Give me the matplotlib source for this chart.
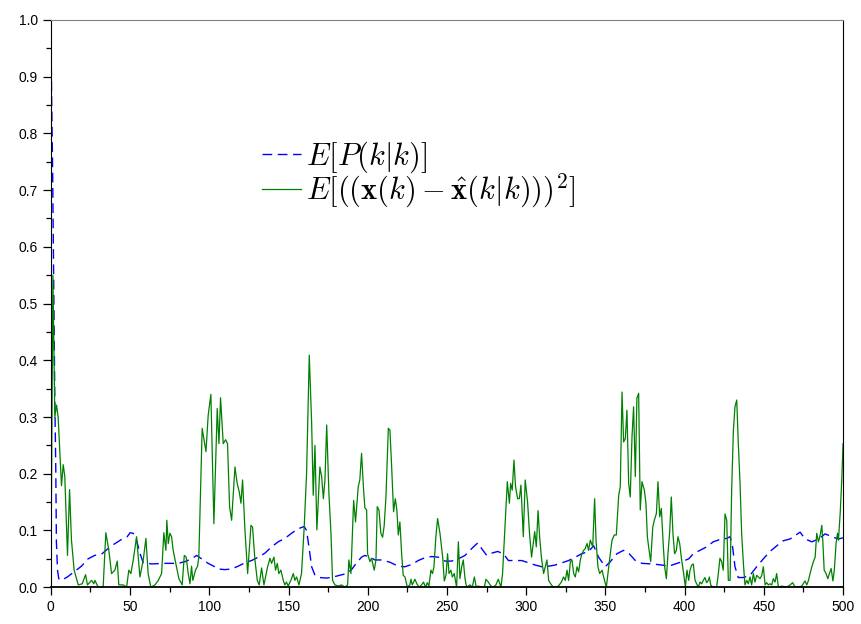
import matplotlib
matplotlib.use('Agg')
import matplotlib.pyplot as plt
from matplotlib.ticker import MultipleLocator, FormatStrFormatter

plt.rcParams['mathtext.fontset'] = 'cm'
plt.rcParams['font.family'] = ['Liberation Sans', 'DejaVu Sans']

# E[P(k|k)]  (blue dashed)
k_p = [0, 0.5, 1.1, 1.5, 2.1, 2.5, 3.1, 3.5, 4.2, 5, 6, 8, 10.9, 15.1, 19.3, 23.5,
       27.7, 31.9, 36.1, 40, 44.5, 48.2, 50, 52, 54.1, 56.2, 58.3, 63.6, 72, 80.4,
       84.6, 88.8, 92, 95.1, 99.3, 103.5, 105.6, 109.8, 114, 118.2, 122.5, 126.7,
       130.9, 135.1, 139.3, 143.5, 147.7, 151.9, 156.1, 159.9, 161.4, 162.9, 164.6,
       166.7, 169.8, 174, 178.2, 182.4, 186.6, 189.8, 193, 196.1, 198.2, 201.4,
       204.6, 208.7, 214, 219.2, 223.4, 227.7, 231.9, 236.1, 240.3, 244.5, 248.7,
       252.9, 257.2, 261.4, 265.6, 269.4, 271.9, 275.1, 278.3, 282, 285.6, 288.8,
       293, 297.2, 301.5, 305.7, 309.9, 314.1, 318.3, 322.6, 326.8, 331, 335.2,
       339.4, 342.6, 345.7, 349.9, 353.1, 357.3, 361.5, 364.7, 368.9, 373.1, 379.4,
       385.8, 390, 394.2, 398.4, 402.6, 405.5, 409.7, 413.9, 418.1, 422.3, 426.5,
       428.7, 430.3, 431.8, 433.9, 437.1, 441.3, 445.5, 449.7, 453.9, 458.2, 462.4,
       466.6, 469.8, 472.9, 476.1, 480.3, 484.5, 488.7, 492.9, 497.1, 500]
p_mean = [1.0, 0.86, 0.74, 0.62, 0.45, 0.33, 0.21, 0.08, 0.03, 0.015, 0.012, 0.014,
          0.019, 0.028, 0.037, 0.05, 0.056, 0.058, 0.068, 0.076, 0.084, 0.089, 0.096,
          0.095, 0.083, 0.06, 0.043, 0.041, 0.042, 0.042, 0.045, 0.05, 0.056, 0.05,
          0.042, 0.036, 0.032, 0.031, 0.032, 0.037, 0.043, 0.047, 0.053, 0.06, 0.071,
          0.08, 0.086, 0.095, 0.103, 0.107, 0.1, 0.071, 0.036, 0.021, 0.017, 0.016,
          0.018, 0.021, 0.024, 0.031, 0.043, 0.053, 0.056, 0.053, 0.048, 0.048, 0.044,
          0.037, 0.036, 0.04, 0.047, 0.052, 0.054, 0.053, 0.046, 0.046, 0.05, 0.056,
          0.068, 0.078, 0.068, 0.056, 0.06, 0.063, 0.059, 0.047, 0.047, 0.047, 0.043,
          0.039, 0.036, 0.037, 0.039, 0.043, 0.047, 0.053, 0.059, 0.063, 0.073, 0.053,
          0.036, 0.045, 0.059, 0.065, 0.06, 0.047, 0.042, 0.041, 0.039, 0.037, 0.041,
          0.045, 0.05, 0.059, 0.065, 0.071, 0.08, 0.084, 0.086, 0.089, 0.071, 0.036,
          0.017, 0.017, 0.021, 0.036, 0.05, 0.063, 0.073, 0.082, 0.085, 0.091, 0.097,
          0.085, 0.08, 0.085, 0.094, 0.089, 0.085, 0.087]

# E[(x - xhat)^2]  (green solid)
k_e = [0, 1.3, 2.5, 3.6, 4.6, 6.7, 7.8, 8.8, 10.5, 11.8, 13.0, 14.7, 17.3, 19.8, 21.9,
       23.1, 25.7, 27.1, 27.8, 29.9, 33.0, 34.7, 36.6, 38.3, 40.4, 41.9, 42.9, 45.7,
       47.8, 49.2, 50.5, 52.0, 54.1, 56.2, 58.3, 60.0, 61.4, 63.1, 65.7, 67.8, 69.9,
       71.3, 72.6, 73.2, 74.1, 75.1, 76.2, 77.2, 79.3, 80.8, 82.9, 84.2, 85.4, 86.7,
       87.8, 88.8, 89.6, 91.3, 92.6, 93.4, 95.5, 97.9, 99.3, 101.0, 102.9, 105.0,
       106.1, 107.1, 108.8, 110.3, 111.5, 112.8, 114.1, 116.2, 117.6, 118.9, 120.0,
       121.0, 122.5, 124.2, 126.3, 127.3, 128.8, 130.3, 131.5, 133.0, 134.5, 135.7,
       136.8, 138.3, 139.3, 140.8, 141.8, 142.9, 143.9, 145.2, 146.7, 147.7, 148.7,
       149.8, 151.5, 153.0, 154.0, 155.1, 156.6, 158.2, 159.9, 161.4, 163.1, 164.6,
       165.6, 166.7, 167.9, 169.8, 170.9, 172.0, 173.0, 174.1, 175.5, 176.8, 177.8,
       179.3, 181.4, 183.5, 185.6, 187.3, 188.1, 189.4, 191.1, 192.3, 194.0, 195.0,
       196.1, 197.4, 198.2, 199.3, 199.9, 201.4, 202.4, 204.1, 205.2, 206.0, 207.1,
       208.3, 209.4, 210.4, 211.5, 213.0, 214.0, 215.1, 216.3, 217.4, 218.4, 219.3,
       220.3, 221.4, 222.4, 223.5, 225.0, 226.6, 227.3, 228.1, 229.8, 231.0, 232.5,
       234.0, 235.2, 236.5, 237.6, 238.6, 239.9, 240.9, 241.8, 243.0, 244.1, 245.6,
       247.3, 248.3, 249.4, 250.4, 251.3, 252.5, 253.4, 254.6, 256.1, 257.2, 258.2,
       259.3, 260.3, 261.4, 262.4, 264.5, 266.0, 267.3, 268.5, 269.8, 271.9, 273.6,
       274.6, 276.1, 277.8, 279.2, 280.9, 282.4, 284.1, 285.1, 286.6, 288.1, 289.4,
       290.2, 291.2, 292.3, 293.3, 294.6, 295.7, 296.7, 298.2, 299.4, 300.9, 302.1,
       303.4, 305.4, 306.4, 307.5, 308.5, 309.6, 311.0, 313.1, 314.2, 315.9, 317.3,
       319.4, 320.9, 322.2, 323.6, 324.7, 325.8, 326.8, 327.9, 328.9, 330.0, 331.0,
       332.1, 333.1, 334.2, 335.2, 336.3, 337.3, 338.4, 339.4, 340.5, 342.0, 343.2,
       344.1, 345.3, 346.4, 347.9, 348.9, 350.6, 351.6, 353.1, 354.2, 355.6, 356.9,
       358.4, 359.4, 360.5, 361.5, 362.6, 363.6, 364.7, 365.7, 366.8, 367.8, 368.9,
       369.9, 371.0, 372.0, 373.1, 374.6, 375.6, 376.5, 377.3, 378.6, 379.9, 380.9,
       382.2, 383.2, 384.3, 385.3, 386.6, 387.4, 388.5, 389.5, 390.6, 391.6, 392.7,
       393.7, 394.8, 395.8, 396.9, 397.9, 399.4, 400.5, 401.5, 402.6, 403.4, 404.5,
       405.5, 406.6, 407.6, 408.7, 409.7, 410.8, 411.8, 412.9, 413.9, 415.0, 415.6,
       416.5, 417.7, 420.2, 421.3, 422.3, 423.4, 424.4, 425.5, 426.6, 427.6, 428.7,
       429.7, 430.8, 431.8, 432.9, 433.9, 435.0, 436.0, 437.1, 438.1, 439.2, 440.2,
       441.3, 442.3, 443.4, 444.4, 445.5, 446.6, 447.6, 448.7, 449.7, 450.8, 451.8,
       452.9, 453.9, 455.0, 456.0, 457.1, 458.1, 459.2, 461.3, 464.4, 466.6, 468.2,
       469.7, 471.8, 473.9, 476.0, 477.1, 478.2, 479.2, 480.3, 481.3, 482.4, 483.4,
       484.5, 485.6, 486.6, 487.2, 488.1, 489.3, 490.4, 491.4, 492.5, 493.6, 494.5,
       495.6, 496.5, 497.1, 498.2, 499.2, 500.0]
e_mean = [0.0, 0.55, 0.300, 0.321, 0.300, 0.179, 0.216, 0.195, 0.056, 0.172, 0.083,
          0.030, 0.004, 0.006, 0.022, 0.004, 0.012, 0.006, 0.012, 0.0, 0.0, 0.096,
          0.065, 0.024, 0.030, 0.046, 0.004, 0.004, 0.0, 0.030, 0.024, 0.048, 0.089,
          0.018, 0.048, 0.086, 0.024, 0.0, 0.004, 0.012, 0.024, 0.096, 0.065, 0.118,
          0.077, 0.095, 0.089, 0.065, 0.036, 0.015, 0.004, 0.056, 0.053, 0.024, 0.006,
          0.037, 0.012, 0.030, 0.037, 0.053, 0.280, 0.239, 0.303, 0.340, 0.112, 0.315,
          0.253, 0.334, 0.253, 0.260, 0.253, 0.142, 0.118, 0.212, 0.183, 0.168, 0.148,
          0.189, 0.101, 0.024, 0.109, 0.106, 0.048, 0.012, 0.004, 0.034, 0.004, 0.021,
          0.036, 0.051, 0.042, 0.053, 0.030, 0.042, 0.024, 0.030, 0.012, 0.004, 0.009,
          0.002, 0.012, 0.024, 0.012, 0.018, 0.004, 0.024, 0.106, 0.200, 0.409, 0.289,
          0.162, 0.250, 0.101, 0.212, 0.195, 0.156, 0.189, 0.286, 0.165, 0.095, 0.012,
          0.004, 0.002, 0.004, 0.0, 0.004, 0.048, 0.024, 0.153, 0.115, 0.177, 0.189,
          0.236, 0.171, 0.140, 0.136, 0.059, 0.045, 0.051, 0.030, 0.048, 0.142, 0.136,
          0.095, 0.088, 0.109, 0.159, 0.280, 0.277, 0.212, 0.133, 0.156, 0.136, 0.092,
          0.115, 0.059, 0.021, 0.018, 0.0, 0.004, 0.014, 0.004, 0.014, 0.006, 0.0,
          0.004, 0.009, 0.0, 0.008, 0.002, 0.030, 0.024, 0.036, 0.089, 0.121, 0.095,
          0.053, 0.011, 0.021, 0.059, 0.024, 0.030, 0.018, 0.024, 0.0, 0.080, 0.015,
          0.036, 0.048, 0.015, 0.0, 0.004, 0.0, 0.018, 0.0, 0.002, 0.0, 0.0, 0.014,
          0.009, 0.002, 0.0, 0.004, 0.014, 0.0, 0.024, 0.106, 0.186, 0.148, 0.183,
          0.171, 0.224, 0.177, 0.156, 0.156, 0.180, 0.089, 0.189, 0.150, 0.095, 0.053,
          0.098, 0.071, 0.135, 0.089, 0.053, 0.024, 0.048, 0.012, 0.004, 0.0, 0.0,
          0.004, 0.009, 0.018, 0.012, 0.030, 0.012, 0.045, 0.048, 0.024, 0.018, 0.036,
          0.027, 0.048, 0.059, 0.065, 0.068, 0.077, 0.065, 0.083, 0.071, 0.156, 0.083,
          0.036, 0.024, 0.030, 0.018, 0.0, 0.024, 0.059, 0.083, 0.092, 0.092, 0.162,
          0.177, 0.344, 0.256, 0.262, 0.312, 0.183, 0.159, 0.265, 0.318, 0.195, 0.333,
          0.342, 0.136, 0.186, 0.171, 0.148, 0.089, 0.071, 0.045, 0.106, 0.118, 0.130,
          0.186, 0.124, 0.139, 0.071, 0.036, 0.015, 0.059, 0.098, 0.159, 0.092, 0.059,
          0.065, 0.089, 0.077, 0.053, 0.024, 0.0, 0.030, 0.012, 0.030, 0.039, 0.041,
          0.012, 0.006, 0.0, 0.009, 0.006, 0.012, 0.017, 0.008, 0.012, 0.018, 0.004,
          0.0, 0.0, 0.024, 0.051, 0.045, 0.030, 0.129, 0.118, 0.012, 0.012, 0.171,
          0.277, 0.318, 0.330, 0.253, 0.183, 0.095, 0.042, 0.004, 0.012, 0.006, 0.018,
          0.004, 0.024, 0.009, 0.021, 0.018, 0.015, 0.021, 0.036, 0.004, 0.008, 0.004,
          0.006, 0.004, 0.015, 0.009, 0.024, 0.0, 0.002, 0.0, 0.004, 0.008, 0.0, 0.0,
          0.002, 0.011, 0.004, 0.012, 0.024, 0.036, 0.045, 0.053, 0.095, 0.080, 0.092,
          0.109, 0.083, 0.030, 0.024, 0.015, 0.024, 0.033, 0.011, 0.030, 0.077, 0.095,
          0.083, 0.130, 0.189, 0.253]

fig = plt.figure(figsize=(8.62, 6.24), dpi=100)
ax = fig.add_axes([0.059, 0.059, 0.919, 0.909])

ax.plot(k_p, p_mean, color='#0000ff', lw=1.0, dashes=(7, 4),
        label=r'$E[P(k|k)]$')
ax.plot(k_e, e_mean, color='#008000', lw=0.9,
        label=r'$E[((\mathbf{x}(k)-\hat{\mathbf{x}}(k|k)))^2]$')

ax.set_xlim(0, 500)
ax.set_ylim(0, 1.0)
ax.xaxis.set_major_locator(MultipleLocator(50))
ax.xaxis.set_minor_locator(MultipleLocator(25))
ax.yaxis.set_major_locator(MultipleLocator(0.1))
ax.yaxis.set_minor_locator(MultipleLocator(0.05))
ax.yaxis.set_major_formatter(FormatStrFormatter('%.1f'))
ax.tick_params(which='major', direction='out', length=6, width=0.9, labelsize=10,
               top=False, right=False)
ax.tick_params(which='minor', direction='out', length=3.5, width=0.9,
               top=False, right=False)

for s in ['left', 'right', 'bottom']:
    ax.spines[s].set_color('black')
ax.spines['top'].set_color('#808080')
ax.spines['bottom'].set_linewidth(1.3)

leg = ax.legend(loc='upper left', bbox_to_anchor=(0.266, 0.79), frameon=False,
                fontsize=22, handlelength=1.3, handletextpad=0.15,
                labelspacing=-0.1, borderpad=0, borderaxespad=0)

fig.savefig('out.png', dpi=100)
